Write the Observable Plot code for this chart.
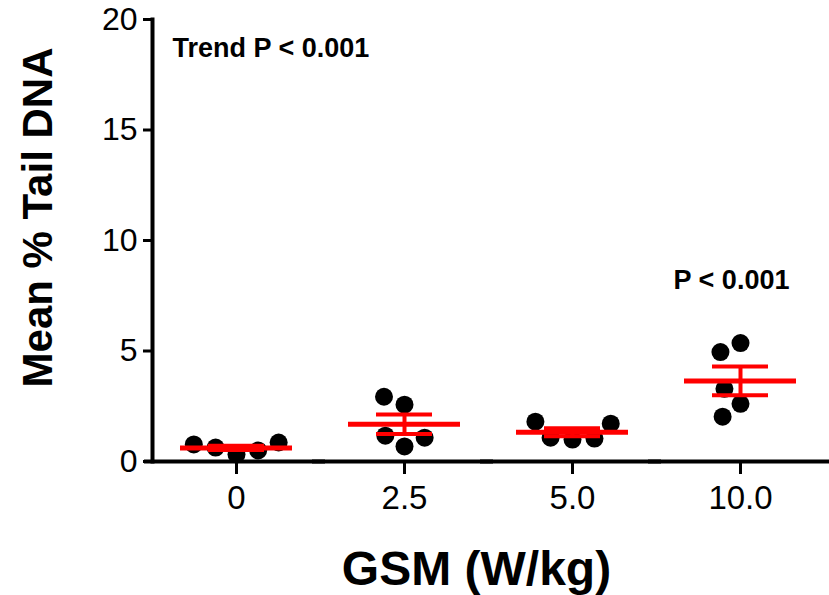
<!DOCTYPE html>
<html>
<head>
<meta charset="utf-8">
<script src="https://cdn.jsdelivr.net/npm/d3@7"></script>
<script src="https://cdn.jsdelivr.net/npm/@observablehq/plot@0.6"></script>
<style>
  html, body { margin: 0; padding: 0; background: white; }
  #chart { width: 829px; height: 595px; }
</style>
</head>
<body>
<div id="chart"></div>
<script>
// Dose groups (GSM, W/kg) as shown on the x axis
const groups = ["0", "2.5", "5.0", "10.0"];

// Mean % Tail DNA per animal (order is arbitrary)
const values0   = [0.32, 0.63, 0.50, 0.86, 0.77];
const values2_5 = [0.68, 1.17, 1.08, 2.57, 2.93];
const values5_0 = [0.99, 1.08, 1.04, 1.71, 1.80];
const values10  = [2.61, 3.29, 2.03, 5.36, 4.95];

// y axis ticks
const yTicks = [0, 5, 10, 15, 20];

// annotations
const annotGroups = ["10.0"];
const annotY = [8.2];
const annotText = ["P < 0.001"];
const trendText = "Trend P < 0.001";
const yLabel = "Mean % Tail DNA";
const xLabel = "GSM (W/kg)";

const series = [values0, values2_5, values5_0, values10];
const points = groups.flatMap((g, i) => series[i].map(v => ({g, v})));
const stats = groups.map((g, i) => {
  const vs = series[i];
  const mean = d3.mean(vs);
  const sem = d3.deviation(vs) / Math.sqrt(vs.length);
  return {g, mean, lo: mean - sem, hi: mean + sem};
});
const annots = annotGroups.map((g, i) => ({g, y: annotY[i], text: annotText[i]}));

const RED = "#ff0000";
const FONT = "'Liberation Sans', Arial, sans-serif";

const chart = Plot.plot({
  width: 829,
  height: 595,
  marginTop: 19,
  marginBottom: 134,
  marginLeft: 152,
  marginRight: 5,
  style: {fontFamily: FONT, color: "black", background: "white"},
  fx: {domain: groups, padding: 0},
  y: {domain: [0, 20]},
  marks: [
    Plot.axisY({ticks: yTicks, tickSize: 9, tickPadding: 6, fontSize: 32, strokeWidth: 3, label: null}),
    Plot.axisFx({anchor: "bottom", tickSize: 13, tickPadding: 11, fontSize: 33, strokeWidth: 3, label: null}),
    Plot.frame({anchor: "left", facetAnchor: "left", strokeWidth: 4}),
    Plot.ruleY([0], {strokeWidth: 4, insetLeft: -8, insetRight: -5}),
    Plot.dot(points, Plot.dodgeX({anchor: "middle", padding: 4}, {fx: "g", y: "v", r: 9, fill: "black"})),
    Plot.ruleY(stats, {fx: "g", y: "mean", stroke: RED, strokeWidth: 5, insetLeft: 28, insetRight: 28}),
    Plot.ruleY(stats, {fx: "g", y: "hi", stroke: RED, strokeWidth: 4, insetLeft: 56, insetRight: 56}),
    Plot.ruleY(stats, {fx: "g", y: "lo", stroke: RED, strokeWidth: 4, insetLeft: 56, insetRight: 56}),
    Plot.ruleX(stats, {fx: "g", x: null, y1: "lo", y2: "hi", stroke: RED, strokeWidth: 4}),
    Plot.text(annots, {fx: "g", y: "y", text: "text", fontSize: 27, fontWeight: "bold", dx: -9, lineAnchor: "middle"}),
    Plot.text([trendText], {fx: [groups[0]], frameAnchor: "top-left", textAnchor: "start", lineAnchor: "middle", dx: 20, dy: 29, fontSize: 27, fontWeight: "bold"}),
    Plot.text([yLabel], {facetAnchor: "left", frameAnchor: "left", rotate: -90, textAnchor: "middle", lineAnchor: "middle", dx: -114, dy: -23, fontSize: 42, fontWeight: "bold"}),
    Plot.text([xLabel], {fx: [groups[1]], frameAnchor: "bottom-right", textAnchor: "middle", lineAnchor: "middle", dx: -12, dy: 108, fontSize: 48, fontWeight: "bold"})
  ]
});
document.getElementById("chart").append(chart);
</script>
</body>
</html>
